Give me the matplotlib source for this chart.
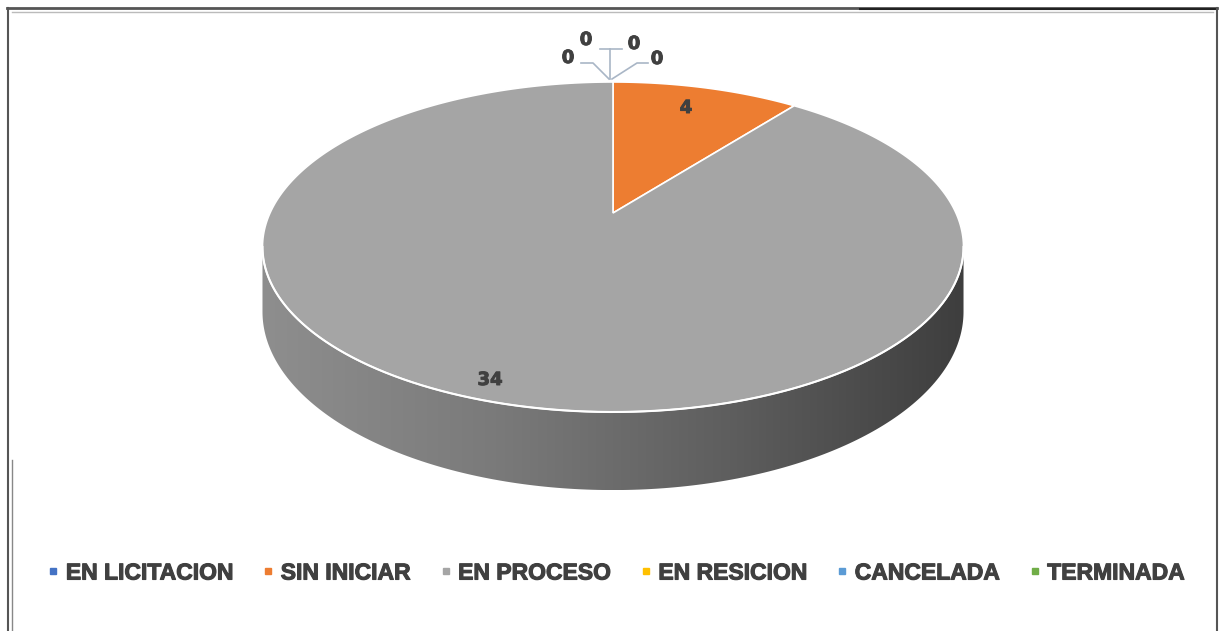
import numpy as np
import matplotlib.pyplot as plt
import matplotlib.patheffects as pe
from matplotlib.lines import Line2D
from matplotlib.patches import Polygon
from matplotlib.colors import LinearSegmentedColormap

labels = ['EN LICITACION', 'SIN INICIAR', 'EN PROCESO', 'EN RESICION', 'CANCELADA', 'TERMINADA']
values = [0, 4, 34, 0, 0, 0]
colors = ['#4472C4', '#ED7D31', '#A5A5A5', '#FFC000', '#5B9BD5', '#70AD47']

W, H = 1221, 631
fig = plt.figure(figsize=(W / 100, H / 100), dpi=100)
ax = fig.add_axes([0, 0, 1, 1])
ax.set_xlim(0, W)
ax.set_ylim(H, 0)
ax.axis('off')

# fake 3d pie: perspective projection of a flat disc
cx, cy = 613, 213
k, a, b, h = 0.206, 158, 343, 62


def proj(theta, depth=0.0):
    x, z = np.sin(theta), np.cos(theta)
    w = 1 + k * z
    return cx + b * x / w, cy - a * z / w + h * depth / w


# side wall (front part only)
t0 = np.arccos(-k)
t1 = 2 * np.pi - t0
tt = np.linspace(t0, t1, 200)
xt, yt = proj(tt)
xb, yb = proj(tt[::-1], 1.0)
wall = Polygon(np.column_stack([np.r_[xt, xb], np.r_[yt, yb]]), closed=True,
               facecolor='none', edgecolor='none')
ax.add_patch(wall)
grad = np.linspace(0, 1, 256)[None, :]
cmap = LinearSegmentedColormap.from_list(
    'side', ['#8e8e8e', '#7a7a7a', '#5e5e5e', '#3e3e3e'])
im = ax.imshow(grad, extent=[xt.min(), xt.max(), yb.max(), yt.min()],
               cmap=cmap, aspect='auto', zorder=1)
im.set_clip_path(wall)
ax.set_xlim(0, W)
ax.set_ylim(H, 0)

# top slices
total = sum(values)
start = 0.0
for v, c in zip(values, colors):
    span = 2 * np.pi * v / total
    if v > 0:
        th = np.linspace(start, start + span, max(int(span * 60), 4))
        px, py = proj(th)
        ax.fill(np.r_[cx, px], np.r_[cy, py], color=c, ec='white', lw=1.2, zorder=3)
    start += span

# white rim between top and wall
ax.plot(xt, yt, color='white', lw=1.5, zorder=4)

lab_col = '#404040'
thick = [pe.withStroke(linewidth=0.7, foreground=lab_col)]
ax.text(686, 108, '4', fontsize=13, fontweight='bold', color=lab_col,
        ha='center', va='center', zorder=5, path_effects=thick)
ax.text(490, 380, '34', fontsize=13, fontweight='bold', color=lab_col,
        ha='center', va='center', zorder=5, path_effects=thick)

# leader lines for the zero slices
lc = '#a9b6c6'
ax.plot([609, 593, 581], [79, 63, 63], color=lc, lw=1.2, zorder=5)
ax.plot([610, 610], [79, 49], color=lc, lw=1.2, zorder=5)
ax.plot([600, 622], [49, 49], color=lc, lw=1.2, zorder=5)
ax.plot([612, 637, 648], [79, 63, 63], color=lc, lw=1.2, zorder=5)
for (x, y) in [(568, 58), (586, 40), (634, 44), (657, 59)]:
    ax.text(x, y, '0', fontsize=13, fontweight='bold', color=lab_col,
            ha='center', va='center', zorder=5, path_effects=thick)

# frame
ax.plot([7, 1217], [8, 8], color='#555555', lw=2)
ax.plot([12, 1213], [12, 12], color='#bbbbbb', lw=1)
ax.plot([860, 1217], [9, 9], color='#222222', lw=1.5)
ax.plot([8, 8], [8, H], color='#555555', lw=1.5)
ax.plot([12, 12], [460, H], color='#888888', lw=1)
ax.plot([1217, 1217], [8, H], color='#555555', lw=1.5)

handles = [Line2D([], [], marker='s', ls='none', markersize=4, color=c) for c in colors]
leg = fig.legend(handles, labels, loc='center', bbox_to_anchor=(0.503, 1 - 573 / H),
                 ncol=6, frameon=False, handletextpad=0.15, columnspacing=1.15,
                 handlelength=0.8, prop={'family': 'Liberation Sans', 'weight': 'bold', 'size': 16.5})
for t in leg.get_texts():
    t.set_color(lab_col)
    t.set_path_effects([pe.withStroke(linewidth=0.8, foreground=lab_col)])

fig.savefig('out.png', dpi=100)
